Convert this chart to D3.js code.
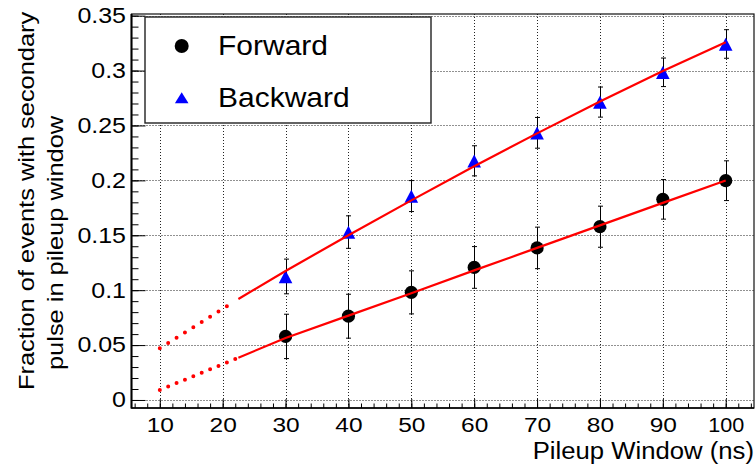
<!DOCTYPE html>
<html><head><meta charset="utf-8">
<script src="https://cdn.jsdelivr.net/npm/d3@7"></script>
<style>
body{margin:0;background:#fff}
svg{display:block}
text{font-family:"Liberation Sans",Arial,Helvetica,sans-serif;fill:#000}
</style>
</head><body>
<svg id="c" width="755" height="466"></svg>
<script>
// ---- data ----
const windows = [30, 40, 50, 60, 70, 80, 90, 100];
const forward = [0.0579, 0.0763, 0.0980, 0.1207, 0.1385, 0.1578, 0.1827, 0.1997];
const forwardErr = [0.0202, 0.0200, 0.0196, 0.0190, 0.0189, 0.0187, 0.0180, 0.0181];
const backward = [0.1125, 0.1529, 0.1857, 0.2178, 0.2433, 0.2713, 0.2984, 0.3242];
const backwardErr = [0.0158, 0.0148, 0.0141, 0.0137, 0.0140, 0.0137, 0.0130, 0.0130];

// fit curves
const fitX = [22.5, 30, 40, 50, 60, 70, 80, 90, 100];
const forwardFit = [0.0385, 0.0565, 0.0768, 0.0972, 0.1180, 0.1385, 0.1590, 0.1795, 0.1998];
const backwardFit = [0.0920, 0.1175, 0.1500, 0.1818, 0.2128, 0.2428, 0.2718, 0.2995, 0.3258];
const extX = [10, 22];
const forwardExt = [0.0091, 0.0373];
const backwardExt = [0.0471, 0.0902];

const xTicks = [10, 20, 30, 40, 50, 60, 70, 80, 90, 100];
const xTickLabels = ["10", "20", "30", "40", "50", "60", "70", "80", "90", "100"];
const yTicks = [0, 0.05, 0.10, 0.15, 0.20, 0.25, 0.30, 0.35];
const yTickLabels = ["0", "0.05", "0.1", "0.15", "0.2", "0.25", "0.3", "0.35"];
const xTitle = "Pileup Window (ns)";
const yTitle = ["Fraction of events with secondary", "pulse in pileup window"];
const seriesNames = ["Forward", "Backward"];

// ---- layout ----
const L = 131.5, R = 754, T = 14, B = 408;
const svg = d3.select("#c");
svg.append("rect").attr("width", 755).attr("height", 466).attr("fill", "#fff");

const x = d3.scaleLinear().domain([5.5, 104.5]).range([L, R]);
const y = d3.scaleLinear().domain([-0.0073, 0.3515]).range([B, T]);

// grid
const grid = svg.append("g").attr("stroke", "#222").attr("stroke-width", 1).attr("stroke-dasharray", "1,2");
grid.selectAll(".gx").data(xTicks).join("line")
  .attr("x1", d => Math.round(x(d)) + 0.5).attr("x2", d => Math.round(x(d)) + 0.5)
  .attr("y1", B).attr("y2", T);
grid.selectAll(".gy").data(yTicks).join("line")
  .attr("y1", d => Math.round(y(d)) + 0.5).attr("y2", d => Math.round(y(d)) + 0.5)
  .attr("x1", L).attr("x2", R);

// frame
svg.append("rect").attr("x", L).attr("y", T).attr("width", R - L).attr("height", B - T)
  .attr("fill", "none").attr("stroke", "#111").attr("stroke-width", 1.2);

// axes
const yMinor = svg.append("g").attr("transform", `translate(${L},0)`)
  .call(d3.axisLeft(y).tickValues(d3.range(0, 0.3501, 0.01)).tickSize(-7).tickFormat(""));
const yAxis = svg.append("g").attr("transform", `translate(${L},0)`)
  .call(d3.axisLeft(y).tickValues(yTicks).tickSize(-14).tickPadding(5.5)
    .tickFormat((d, i) => yTickLabels[i]));
const xMinor = svg.append("g").attr("transform", `translate(0,${B})`)
  .call(d3.axisBottom(x).tickValues(d3.range(6, 105, 2)).tickSize(-4.5).tickFormat(""));
const xAxis = svg.append("g").attr("transform", `translate(0,${B})`)
  .call(d3.axisBottom(x).tickValues(xTicks).tickSize(-9).tickPadding(10.5)
    .tickFormat((d, i) => xTickLabels[i]));
[yMinor, yAxis, xMinor, xAxis].forEach(g => {
  g.select(".domain").remove();
  g.selectAll("line").attr("stroke", "#000").attr("stroke-width", 1);
});
yAxis.selectAll("text").attr("font-size", 25).attr("font-family", null)
  .attr("transform", "scale(1,0.86)");
xAxis.selectAll("text").attr("font-size", 24.5).attr("font-family", null)
  .attr("transform", "scale(1,0.86)")
  .filter((d, i) => xTickLabels[i] === "100")
  .attr("textLength", 36).attr("lengthAdjust", "spacingAndGlyphs");

// axis lines
svg.append("line").attr("x1", L).attr("x2", L).attr("y1", T).attr("y2", B + 0.5)
  .attr("stroke", "#000").attr("stroke-width", 2);
svg.append("line").attr("x1", L).attr("x2", R).attr("y1", B).attr("y2", B)
  .attr("stroke", "#000").attr("stroke-width", 1.5);

// titles
svg.append("text").attr("transform", `translate(${R},459) scale(1,0.9)`)
  .attr("text-anchor", "end").attr("font-size", 25.7).text(xTitle);
svg.append("text").attr("transform", "translate(33.5,390) rotate(-90) scale(1,0.9)")
  .attr("text-anchor", "start").attr("font-size", 25.4).text(yTitle[0]);
svg.append("text").attr("transform", "translate(63,370) rotate(-90) scale(1,0.9)")
  .attr("text-anchor", "start").attr("font-size", 25.4).text(yTitle[1]);

// error bars
function errorBars(vals, errs) {
  const g = svg.append("g").attr("stroke", "#000").attr("stroke-width", 1);
  windows.forEach((w, i) => {
    const cx = Math.round(x(w)) + 0.5;
    const y1 = y(vals[i] - errs[i]), y2 = y(vals[i] + errs[i]);
    g.append("line").attr("x1", cx).attr("x2", cx).attr("y1", y1).attr("y2", y2);
    g.append("line").attr("x1", cx - 2.5).attr("x2", cx + 2.5).attr("y1", y1).attr("y2", y1);
    g.append("line").attr("x1", cx - 2.5).attr("x2", cx + 2.5).attr("y1", y2).attr("y2", y2);
  });
}
errorBars(forward, forwardErr);
errorBars(backward, backwardErr);

// markers
const triPath = "M0,-6.3L6.8,6.7L-6.8,6.7Z";
svg.append("g").selectAll("circle").data(windows).join("circle")
  .attr("cx", d => x(d)).attr("cy", (d, i) => y(forward[i])).attr("r", 6.6).attr("fill", "#000");
svg.append("g").selectAll("path").data(windows).join("path")
  .attr("d", triPath).attr("fill", "#0000ff")
  .attr("transform", (d, i) => `translate(${x(d)},${y(backward[i])})`);

// fit lines
const line = d3.line().x(d => x(d[0])).y(d => y(d[1]));
function fit(ext, vals) {
  svg.append("path").datum(fitX.map((v, i) => [v, vals[i]])).attr("d", line)
    .attr("fill", "none").attr("stroke", "#ff0000").attr("stroke-width", 2.2);
  const p = svg.append("path").datum(extX.map((v, i) => [v, ext[i]])).attr("d", line)
    .attr("fill", "none").attr("stroke", "#ff0000").attr("stroke-width", 4)
    .attr("stroke-linecap", "round");
  const len = p.node().getTotalLength();
  p.attr("stroke-dasharray", `0 ${len / 9}`);
}
fit(forwardExt, forwardFit);
fit(backwardExt, backwardFit);

// legend
const lg = svg.append("g");
lg.append("rect").attr("x", 145).attr("y", 17).attr("width", 286).attr("height", 106)
  .attr("fill", "#fff").attr("stroke", "#222").attr("stroke-width", 1.4);
lg.append("circle").attr("cx", 181.7).attr("cy", 46).attr("r", 7).attr("fill", "#000");
lg.append("path").attr("d", triPath).attr("fill", "#0000ff")
  .attr("transform", "translate(181.7,97.5) scale(1,0.85)");
lg.append("text").attr("transform", "translate(218,54.5) scale(1,0.93)")
  .attr("font-size", 30).text(seriesNames[0]);
lg.append("text").attr("transform", "translate(218,106.5) scale(1,0.93)")
  .attr("font-size", 30).text(seriesNames[1]);
</script>
</body></html>
